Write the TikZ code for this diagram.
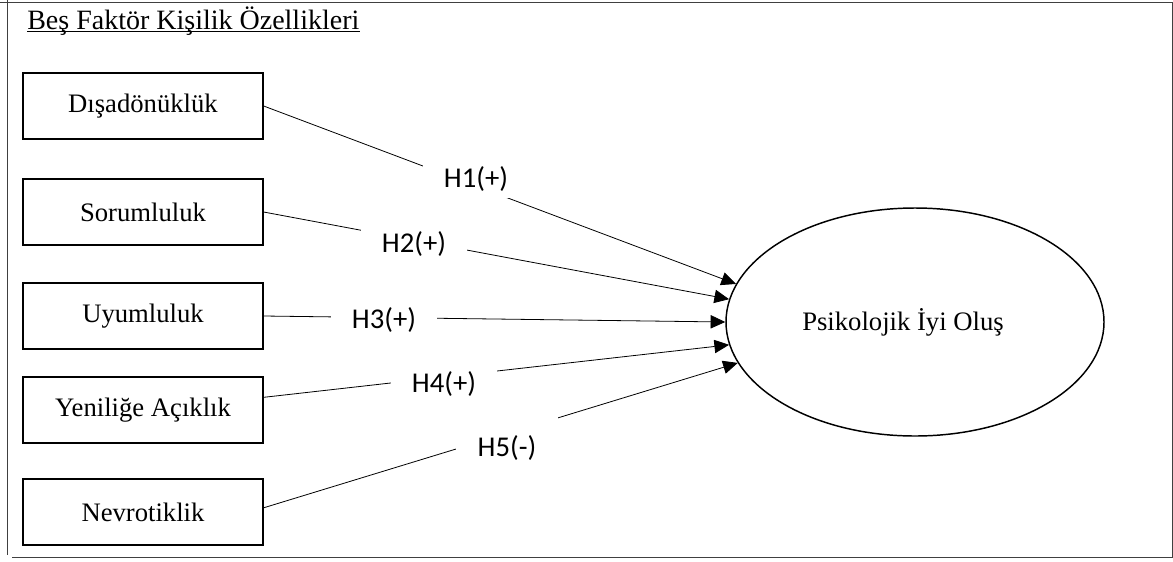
\documentclass[tikz,border=0pt]{standalone}
\usepackage{fontspec}
\setmainfont{Liberation Serif}
\newfontfamily\hypfont{Carlito}
\usetikzlibrary{positioning,arrows.meta,shapes}

\tikzset{
	frame/.style={line width=0.6pt, black!75},
	trait/.style={draw, line width=1pt, minimum width=180pt, minimum height=49.5pt, inner sep=0pt, font=\fontsize{20}{24}\selectfont},
	wellbeing/.style={ellipse, draw, line width=1.1pt, minimum width=283.5pt, minimum height=171pt, inner sep=0pt, font=\fontsize{20}{24}\selectfont},
	hyp/.style={line width=0.6pt, -{Triangle[length=11pt,width=10pt]}},
	hlab/.style={anchor=base, fill=white, inner xsep=16pt, inner ysep=0pt, text height=29pt, text depth=8pt, font=\hypfont\fontsize{21.5}{26}\selectfont}
}

\begin{document}
\begin{tikzpicture}[x=0.75pt,y=-0.75pt]
	\useasboundingbox (0,0) rectangle (1173,561);
	% page frame
	\draw[frame] (0,2) -- (1172,2) -- (1172,557) -- (12,557);
	\draw[frame] (7,0) -- (7,555);

	\node[anchor=base west, inner sep=0pt, font=\fontsize{21}{25}\selectfont] (title) at (27,29) {Beş Faktör Kişilik Özellikleri};
	\draw[line width=0.75pt] ([yshift=-1.8pt]title.base west) -- ([yshift=-1.8pt]title.base east);

	% the five traits
	\node[trait] (ext) at (143,106) {Dışadönüklük};
	\node[trait] (con) at (143,212) {Sorumluluk};
	\node[trait] (agr) at (143,316) {Uyumluluk};
	\node[trait] (ope) at (143,410) {Yeniliğe Açıklık};
	\node[trait] (neu) at (143,512) {Nevrotiklik};

	\node[wellbeing] (pwb) at (915,322) {Psikolojik İyi Oluş\kern18pt};

	% hypotheses
	\draw[hyp] (ext.east) -- (pwb.168);
	\draw[hyp] (con.east) -- (pwb.173);
	\draw[hyp] (agr.east) -- (pwb.180);
	\draw[hyp] (ope.6) -- (pwb.187);
	\draw[hyp] (neu.2) -- (pwb.193);

	\node[hlab] (h1) at (476,187) {H1(+)};
	\node[hlab] (h2) at (414,252) {H2(+)};
	\node[hlab] (h3) at (384,328) {H3(+)};
	\node[hlab] (h4) at (444,392) {H4(+)};
	\node[hlab] (h5) at (507,456) {H5(-)};
\end{tikzpicture}
\end{document}
